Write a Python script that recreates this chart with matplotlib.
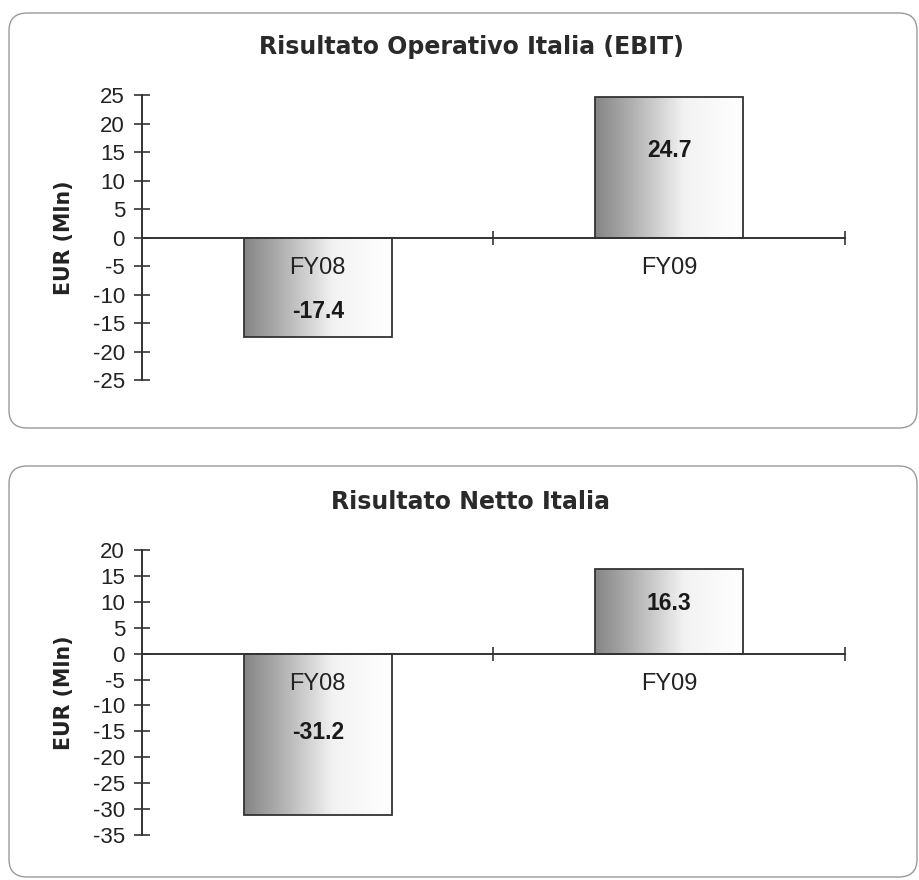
import matplotlib.pyplot as plt
import numpy as np
from matplotlib.patches import FancyBboxPatch, Rectangle
from matplotlib.colors import LinearSegmentedColormap

# data
years = ["FY08", "FY09"]
ebit = [-17.4, 24.7]
netto = [-31.2, 16.3]

titles = ["Risultato Operativo Italia (EBIT)", "Risultato Netto Italia"]
ylims = [(-25, 25), (-35, 20)]
yticks = [np.arange(-25, 30, 5), np.arange(-35, 25, 5)]

W, H = 920, 880
fig = plt.figure(figsize=(W / 100, H / 100), dpi=100)

def fx(px):
    return px / W

def fy(py):
    return 1 - py / H

# grey fading to white, like the old excel gradient fill
grad = LinearSegmentedColormap.from_list(
    "fade", [(0.0, "#858585"), (0.25, "#b0b0b0"), (0.6, "#f2f2f2"), (1.0, "#ffffff")])

label_font = "Liberation Sans"
head_font = "DejaVu Sans"

def panel(box_top, box_bot, ax_top, ax_bot, title_y, values, title, ylim, ticks, lab_frac):
    # rounded frame around the chart
    fig.patches.append(FancyBboxPatch(
        (fx(9), fy(box_bot)), fx(908), (box_bot - box_top) / H,
        boxstyle="round,pad=0,rounding_size=0.02", transform=fig.transFigure,
        facecolor="white", edgecolor="#9a9a9a", lw=1.0, zorder=-5))
    fig.text(fx(471), fy(title_y), title, ha="center", va="center",
             fontsize=17, fontweight="bold", family=head_font, color="#2a2a2a")

    ax = fig.add_axes([fx(142), fy(ax_bot), fx(845 - 142), (ax_bot - ax_top) / H])
    ax.patch.set_visible(False)

    x = np.arange(len(years))
    bars = ax.bar(x, values, width=0.42, facecolor="none", edgecolor="#333333",
                  lw=1.3, zorder=3)
    img = np.linspace(0, 1, 256).reshape(1, -1)
    for i, (b, v) in enumerate(zip(bars, values)):
        x0, y0 = b.get_x(), b.get_y()
        w, h = b.get_width(), b.get_height()
        im = ax.imshow(img, cmap=grad, aspect="auto", zorder=2,
                       extent=(x0, x0 + w, min(y0, y0 + h), max(y0, y0 + h)))
        im.set_clip_path(Rectangle((x0, y0), w, h, transform=ax.transData))
        ax.text(x0 + w / 2, v * lab_frac[i], f"{v:.1f}",
                ha="center", va="center", fontsize=16.5, fontweight="bold",
                family=label_font, color="#1a1a1a", zorder=4)
    ax.set_xlim(-0.5, 1.5)
    ax.set_ylim(*ylim)

    for s in ["top", "right"]:
        ax.spines[s].set_visible(False)
    ax.spines["bottom"].set_position(("data", 0))
    for s in ["left", "bottom"]:
        ax.spines[s].set_color("#333333")
        ax.spines[s].set_linewidth(1.4)
        ax.spines[s].set_zorder(5)

    ax.set_yticks(ticks)
    ax.set_yticklabels([str(t) for t in ticks], family=label_font, fontsize=16, color="#222222")
    ax.tick_params(axis="y", direction="inout", length=11.5, width=1.2, color="#333333", pad=6.5)

    # category labels sit under the zero line, boundary ticks at 0.5 / 1.5
    ax.set_xticks([0.5, 1.5])
    ax.set_xticklabels([])
    ax.tick_params(axis="x", direction="inout", length=10, width=1.2, color="#333333")
    for i, name in enumerate(years):
        ax.annotate(name, (i, 0), xytext=(0, -30), textcoords="offset pixels",
                    ha="center", va="center", fontsize=17, family=label_font,
                    color="#222222", zorder=4)

    fig.text(fx(64), fy((ax_top + ax_bot) / 2), "EUR (Mln)", rotation=90,
             ha="center", va="center", fontsize=14.8, fontweight="bold",
             family=head_font, color="#222222")
    return ax

panel(13, 428, 95, 380, 47, ebit, titles[0], ylims[0], yticks[0], [0.75, 0.62])
panel(466, 877, 550, 835, 502, netto, titles[1], ylims[1], yticks[1], [0.49, 0.59])

fig.savefig("out.png", dpi=100)
